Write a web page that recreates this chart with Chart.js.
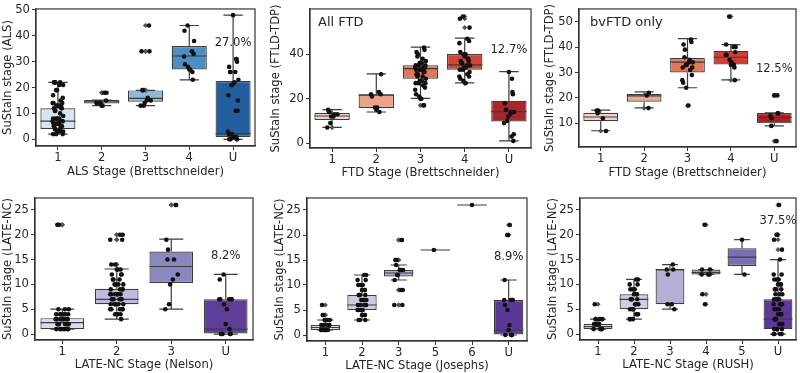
<!DOCTYPE html>
<html>
<head>
<meta charset="utf-8">
<script src="https://cdn.jsdelivr.net/npm/chart.js@4.4.1/dist/chart.umd.min.js"></script>
<style>
  html, body { margin: 0; padding: 0; background: #fff; }
  #wrap { position: relative; width: 800px; height: 373px; overflow: hidden; }
  canvas { position: absolute; }
</style>
</head>
<body>
<div id="wrap">
  <canvas id="als" width="265" height="185" style="left:0;top:0"></canvas>
  <canvas id="ftd" width="270" height="185" style="left:265px;top:0"></canvas>
  <canvas id="bv" width="265" height="185" style="left:535px;top:0"></canvas>
  <canvas id="nel" width="265" height="188" style="left:0;top:185px"></canvas>
  <canvas id="jos" width="270" height="188" style="left:265px;top:185px"></canvas>
  <canvas id="rush" width="265" height="188" style="left:535px;top:185px"></canvas>
</div>
<script>
// ---- ALS (Brettschneider) ----
var alsCats = ['1', '2', '3', '4', 'U'];
var alsPts = [
  [22,22,22,22,21,21,19,19,17,16,15,14,14,14,13,13,13,13,12,12,12,11,11,10,9,8,8,8,8,7,7,7,7,6,6,6,6,5,5,5,5,4,4,4,3,3,3,2,2,2],
  [18,18,15,14,14,14,13,13],
  [44,34,34,19,19,16,15,15,14,13,13],
  [44,42,38,34,33,32,29,28,27,27,26,23],
  [48,31,31,30,28,26,26,26,23,22,21,21,17,15,11,11,3,2,2,1,1,1,0,0,0,0]
];
var alsQ1 = [4, 13.8, 14.5, 27, 0.9];
var alsMed = [7, 14.5, 15.8, 32.2, 2.2];
var alsQ3 = [12, 15.2, 18.9, 36.1, 22.5];
var alsLo = [2, 13, 13, 23, 0];
var alsHi = [22, 15.2, 18.9, 44, 48];
var alsTicks = [0, 10, 20, 30, 40, 50];

// ---- All FTD ----
var ftdCats = ['1', '2', '3', '4', 'U'];
var ftdPts = [
  [15,14,14,13,13,12,12,9,7],
  [31,23,22,22,21,16,16,15,14],
  [43,42,41,40,39,38,37,36,36,35,35,35,34,34,34,33,33,33,33,32,32,32,31,31,30,30,29,28,28,27,27,27,26,25,24,22,21,20,20,17,17],
  [57,56,52,47,46,45,41,40,40,39,38,38,37,37,36,36,35,35,34,34,33,33,32,31,30,30,29,28,27],
  [32,29,23,22,18,15,15,14,14,13,12,10,9,4,3,1]
];
var ftdQ1 = [10.4, 15.8, 29, 33, 9.7];
var ftdMed = [12.2, 21.6, 33.5, 35.2, 14.2];
var ftdQ3 = [13.6, 22, 35.1, 40.1, 19];
var ftdLo = [7.1, 14, 20.1, 27.1, 1];
var ftdHi = [15.1, 31.2, 43.2, 47.3, 32.2];
var ftdTicks = [0, 20, 40];

// ---- bvFTD only ----
var bvCats = ['1', '2', '3', '4', 'U'];
var bvPts = [
  [15,15,14,12,7],
  [22,21,16],
  [43,42,41,39,36,35,34,34,33,33,32,32,31,29,27,26,24,17],
  [52,41,40,40,38,37,37,35,34,33,33,32,27],
  [21,21,14,14,13,12,9,3]
];
var bvQ1 = [10.8, 18.5, 30, 33.2, 10];
var bvMed = [12.5, 20.8, 34.1, 36, 12.3];
var bvQ3 = [14.2, 21.5, 35.7, 38.5, 14.1];
var bvLo = [7.1, 16.1, 24, 27.1, 9];
var bvHi = [15.2, 22.4, 43.3, 41, 14.1];
var bvTicks = [10, 20, 30, 40, 50];

// ---- LATE-NC (Nelson) ----
var nelCats = ['1', '2', '3', 'U'];
var nelPts = [
  [22,22,5,5,5,4,4,4,4,4,4,3,3,3,3,3,3,3,2,2,2,2,2,2,2,1,1,1,1,1,1,1],
  [20,20,19,19,14,14,13,13,13,12,12,12,11,11,11,10,10,10,10,9,9,9,9,8,8,8,8,8,8,7,7,7,7,7,7,6,6,6,6,6,5,5,5,5,5,4,4,4,4,3],
  [26,26,19,17,15,15,12,11,10,6,5],
  [12,11,7,7,7,7,7,6,5,2,1,0,0,0,0,0]
];
var nelQ1 = [1, 6, 10.3, 0.1];
var nelMed = [2.3, 7, 13.6, 1];
var nelQ3 = [3.2, 9.1, 16.6, 7];
var nelLo = [1, 3, 5, 0];
var nelHi = [5, 13.1, 19.1, 12];
var lateTicks = [0, 5, 10, 15, 20, 25];

// ---- LATE-NC (Josephs) ----
var josCats = ['1', '2', '3', '5', '6', 'U'];
var josPts = [
  [6,4,4,3,3,3,3,2,2,2,2,2,1,1,1,1,1,1],
  [12,12,11,11,10,10,10,9,9,9,8,8,8,8,7,7,7,7,6,6,6,6,6,5,5,5,5,4,4,4,3,3,3],
  [19,19,15,15,14,13,13,13,12,12,11,9,9,6,6],
  [17],
  [26],
  [22,20,20,11,7,7,7,7,6,5,2,1,0,0,0,0]
];
var josQ1 = [1, 5, 11.7, 17, 26, 0];
var josMed = [1.5, 6, 12.4, 17, 26, 1];
var josQ3 = [2, 8, 13, 17, 26, 7];
var josLo = [1, 3, 11, 17, 26, 0];
var josHi = [3, 12, 14, 17, 26, 11];

// ---- LATE-NC (RUSH) ----
var rushCats = ['1', '2', '3', '4', '5', 'U'];
var rushPts = [
  [6,3,3,3,3,2,2,2,2,1,1,1,1],
  [11,11,10,10,9,9,9,8,8,8,7,7,7,7,6,6,6,5,5,5,4,4,4,3,3,3],
  [14,13,13,12,6,6,5],
  [22,13,13,12,12,12,8,6],
  [19,12],
  [26,20,20,19,17,15,12,12,11,11,11,10,10,10,9,9,9,8,8,8,7,7,7,7,6,6,6,6,5,5,5,4,4,4,4,3,3,3,2,2,2,1,1,1,1,0,0,0,0]
];
var rushQ1 = [1, 5, 6, 12, 13.7, 1];
var rushMed = [1.5, 7, 13, 12.4, 15.5, 3];
var rushQ3 = [2, 8, 13, 13, 17.3, 7];
var rushLo = [1, 3, 5, 12, 12, 0];
var rushHi = [3, 11, 14, 13, 19, 15];

// box fill colours (seaborn desaturated palettes)
var bluesCol = ['#d6e3f0', '#c4d6e8', '#8db9db', '#4b8fc5', '#235e9e'];
var redsCol = ['#f3d3c9', '#eea48b', '#e3775e', '#d2463a', '#a8272b'];
var redsCol2 = ['#f1d2c8', '#eba88f', '#e3775a', '#cf3f36', '#a8212a'];
var nelCol = ['#dcdcec', '#bcbcdc', '#8b88c0', '#5e3e99'];
var josCol = ['#e0e0ee', '#cccce2', '#aeadd3', '#9a98c8', '#8582bb', '#5b3896'];
var rushCol = ['#e2e1ee', '#cfcee5', '#b2b0d5', '#9795c6', '#7b6fb3', '#5d3898'];

// fixed strip offsets (fraction of a category)
var JITTER = [-0.09, 0.05, -0.02, 0.11, -0.12, 0.02, 0.08, -0.06, 0.12, -0.04, 0.06, -0.1, 0.0, 0.09, -0.07, 0.03, -0.11, 0.1, -0.03, 0.07];

var TXT = '#262626';
var LINE = '#3d3d3d';
var FONT = { family: 'DejaVu Sans', size: 11.6 };

function makePanel(p) {
  var n = p.cats.length;
  var pointData = [], flierData = [], lineData = [], boxData = [];
  p.pts.forEach(function (arr, ci) {
    arr.forEach(function (v, k) {
      pointData.push({ x: ci + JITTER[(k * 7 + ci * 3) % JITTER.length], y: v });
      if (v > p.hi[ci] + 0.01 || v < p.lo[ci] - 0.01) flierData.push({ x: ci, y: v });
    });
  });
  var cap = 0.22;
  p.cats.forEach(function (c, i) {
    lineData.push({ x: i, y: p.lo[i] }, { x: i, y: p.q1[i] }, { x: i, y: null });
    lineData.push({ x: i, y: p.q3[i] }, { x: i, y: p.hi[i] }, { x: i, y: null });
    lineData.push({ x: i - cap, y: p.lo[i] }, { x: i + cap, y: p.lo[i] }, { x: i, y: null });
    lineData.push({ x: i - cap, y: p.hi[i] }, { x: i + cap, y: p.hi[i] }, { x: i, y: null });
    lineData.push({ x: i - 0.4, y: p.med[i] }, { x: i + 0.4, y: p.med[i] }, { x: i, y: null });
    boxData.push({ x: i, y: [p.q1[i], p.q3[i]] });
  });

  var decor = {
    id: 'decor',
    afterDraw: function (chart) {
      var ctx = chart.ctx, a = chart.chartArea;
      ctx.save();
      ctx.strokeStyle = '#333';
      ctx.lineWidth = 1.2;
      ctx.strokeRect(a.left, a.top, a.right - a.left, a.bottom - a.top);
      ctx.fillStyle = TXT;
      ctx.font = '11.6px "DejaVu Sans"';
      ctx.textAlign = 'center';
      ctx.textBaseline = 'middle';
      ctx.fillText(p.note, chart.scales.x.getPixelForValue(n - 1), chart.scales.y.getPixelForValue(p.noteY));
      if (p.label) {
        ctx.font = '13px "DejaVu Sans"';
        ctx.textAlign = 'left';
        ctx.fillText(p.label, a.left + p.labelDx, a.top + 14);
      }
      ctx.restore();
    }
  };

  return new Chart(document.getElementById(p.id), {
    type: 'bar',
    data: {
      datasets: [
        { type: 'scatter', data: pointData, backgroundColor: '#111', borderColor: '#111', borderWidth: 0, pointRadius: 2.3, order: 0 },
        { type: 'scatter', data: flierData, pointStyle: 'rectRot', backgroundColor: '#555', borderColor: '#555', borderWidth: 0, pointRadius: 2.6, order: 1 },
        { type: 'line', data: lineData, borderColor: LINE, borderWidth: 1.2, pointRadius: 0, spanGaps: false, order: 2 },
        { type: 'bar', data: boxData, backgroundColor: p.colors, borderColor: LINE, borderWidth: 1.2, borderSkipped: false,
          barPercentage: 0.8, categoryPercentage: 1, order: 3 }
      ]
    },
    options: {
      responsive: false,
      animation: false,
      layout: { padding: { left: 0, top: p.top, right: p.right, bottom: 0 } },
      plugins: { legend: { display: false }, tooltip: { enabled: false } },
      scales: {
        x: {
          type: 'linear', min: -0.5, max: n - 0.5, offset: false,
          afterBuildTicks: function (s) { s.ticks = p.cats.map(function (c, i) { return { value: i }; }); },
          afterFit: function (s) { s.height = p.xH; s.paddingLeft = 0; s.paddingRight = 0; },
          ticks: { color: TXT, font: FONT, padding: 1, autoSkip: false, maxRotation: 0,
                   callback: function (v) { return p.cats[Math.round(v)]; } },
          grid: { display: true, offset: false, drawOnChartArea: false, drawTicks: true, tickLength: 4, color: '#333' },
          border: { display: true, color: '#333', width: 1.2 },
          title: { display: true, text: p.xTitle, color: TXT, font: FONT, padding: { top: 0, bottom: p.xPad } }
        },
        y: {
          type: 'linear', min: p.yMin, max: p.yMax, beginAtZero: false,
          afterBuildTicks: function (s) { s.ticks = p.yTicks.map(function (v) { return { value: v }; }); },
          afterFit: function (s) { s.width = p.yW; },
          ticks: { color: TXT, font: FONT, padding: 2 },
          grid: { display: true, drawOnChartArea: false, drawTicks: true, tickLength: 4, color: '#333' },
          border: { display: true, color: '#333', width: 1.2 },
          title: { display: true, text: p.yTitle, color: TXT, font: FONT, padding: { top: p.yPad, bottom: 0 } }
        }
      }
    },
    plugins: [decor]
  });
}

makePanel({ id: 'als', cats: alsCats, pts: alsPts, q1: alsQ1, med: alsMed, q3: alsQ3, lo: alsLo, hi: alsHi,
  colors: bluesCol, yMin: -2.6, yMax: 50.4, yTicks: alsTicks, yTitle: 'SuStaIn stage (ALS)',
  xTitle: 'ALS Stage (Brettschneider)', note: '27.0%', noteY: 37.3,
  top: 4, right: 10, yW: 36, xH: 39, xPad: 6, yPad: 1 });

makePanel({ id: 'ftd', cats: ftdCats, pts: ftdPts, q1: ftdQ1, med: ftdMed, q3: ftdQ3, lo: ftdLo, hi: ftdHi,
  colors: redsCol, yMin: -2.2, yMax: 60.4, yTicks: ftdTicks, yTitle: 'SuStaIn stage (FTLD-TDP)',
  xTitle: 'FTD Stage (Brettschneider)', note: '12.7%', noteY: 41.9, label: 'All FTD', labelDx: 8,
  top: 4, right: 3, yW: 45, xH: 37, xPad: 5, yPad: 4 });

makePanel({ id: 'bv', cats: bvCats, pts: bvPts, q1: bvQ1, med: bvMed, q3: bvQ3, lo: bvLo, hi: bvHi,
  colors: redsCol2, yMin: 0.7, yMax: 55, yTicks: bvTicks, yTitle: 'SuStaIn stage (FTLD-TDP)',
  xTitle: 'FTD Stage (Brettschneider)', note: '12.5%', noteY: 31.2, label: 'bvFTD only', labelDx: 11,
  top: 4, right: 3, yW: 44, xH: 38, xPad: 5, yPad: 8 });

makePanel({ id: 'nel', cats: nelCats, pts: nelPts, q1: nelQ1, med: nelMed, q3: nelQ3, lo: nelLo, hi: nelHi,
  colors: nelCol, yMin: -1.2, yMax: 27.4, yTicks: lateTicks, yTitle: 'SuStaIn stage (LATE-NC)',
  xTitle: 'LATE-NC Stage (Nelson)', note: '8.2%', noteY: 15.7,
  top: 13, right: 12, yW: 35, xH: 33, xPad: 1, yPad: 1 });

makePanel({ id: 'jos', cats: josCats, pts: josPts, q1: josQ1, med: josMed, q3: josQ3, lo: josLo, hi: josHi,
  colors: josCol, yMin: -1.2, yMax: 27.4, yTicks: lateTicks, yTitle: 'SuStaIn stage (LATE-NC)',
  xTitle: 'LATE-NC Stage (Josephs)', note: '8.9%', noteY: 15.7,
  top: 13, right: 8, yW: 42, xH: 32, xPad: 0, yPad: 8 });

makePanel({ id: 'rush', cats: rushCats, pts: rushPts, q1: rushQ1, med: rushMed, q3: rushQ3, lo: rushLo, hi: rushHi,
  colors: rushCol, yMin: -1.2, yMax: 27.4, yTicks: lateTicks, yTitle: 'SuStaIn stage (LATE-NC)',
  xTitle: 'LATE-NC Stage (RUSH)', note: '37.5%', noteY: 22.8,
  top: 13, right: 3, yW: 45, xH: 33, xPad: 1, yPad: 11 });
</script>
</body>
</html>
